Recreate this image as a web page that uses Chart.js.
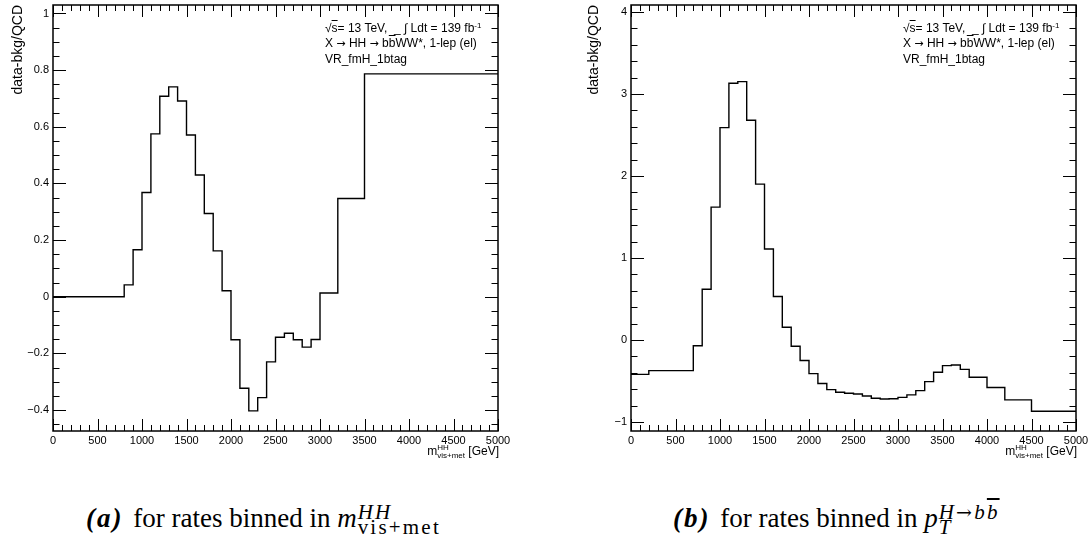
<!DOCTYPE html>
<html>
<head>
<meta charset="utf-8">
<script src="https://cdn.jsdelivr.net/npm/chart.js@4.4.0/dist/chart.umd.min.js"></script>
<style>
  body { margin: 0; width: 1091px; height: 540px; background: #fff; position: relative; overflow: hidden;
         font-family: "Liberation Sans", Arial, sans-serif; color: #000; }
  canvas { position: absolute; top: 0; }
  .info { position: absolute; font-size: 12px; line-height: 12px; white-space: nowrap; }
  .ov { text-decoration: overline; }
  .sp { position: relative; top: -4px; font-size: 8px; }
  .arr { font-family: "DejaVu Sans", sans-serif; font-size: 11px; }
  .xt { position: absolute; font-size: 12px; line-height: 12px; white-space: nowrap; }
  .xt .ss { display: inline-block; vertical-align: -3px; line-height: 8px; font-size: 8px; }
  .ss > span { display: block; }
  .cap { position: absolute; font-family: "Liberation Serif", serif; font-size: 27px; line-height: 27px; white-space: nowrap; }
  .cap .lbl { letter-spacing: 2px; margin-right: 3px; }
  .cap .ss { display: inline-block; vertical-align: -7px; line-height: 15px; font-size: 21px; letter-spacing: 2.2px; margin-left: 1px; }
  .cap .arr2 { font-family: "DejaVu Serif", serif; font-size: 19px; }
</style>
</head>
<body>
<canvas id="chartA" width="513" height="460" style="left:0px"></canvas>
<canvas id="chartB" width="513" height="460" style="left:578px"></canvas>

<!-- rótulos dentro dos painéis -->
<div class="info" style="left:325px; top:22px">√<span class="ov">s</span>= 13 TeV, &nbsp;_ ∫ Ldt = 139 fb<span class="sp">-1</span></div>
<div class="info" style="left:325px; top:37px">X <span class="arr">→</span> HH <span class="arr">→</span> b<span class="ov">b</span>WW*, 1-lep (el)</div>
<div class="info" style="left:325px; top:53px">VR_fmH_1btag</div>

<div class="info" style="left:903px; top:22px">√<span class="ov">s</span>= 13 TeV, &nbsp;_ ∫ Ldt = 139 fb<span class="sp">-1</span></div>
<div class="info" style="left:903px; top:37px">X <span class="arr">→</span> HH <span class="arr">→</span> b<span class="ov">b</span>WW*, 1-lep (el)</div>
<div class="info" style="left:903px; top:53px">VR_fmH_1btag</div>

<div class="xt" style="right:592px; top:444px">m<span class="ss"><span>HH</span><span>vis+met</span></span> [GeV]</div>
<div class="xt" style="right:14px; top:444px">m<span class="ss"><span>HH</span><span>vis+met</span></span> [GeV]</div>

<div class="cap" style="left:86px; top:505px"><b class="lbl"><i>(a)</i></b> for rates binned in <i>m</i><span class="ss"><span><i>HH</i></span><span>vis+met</span></span></div>
<div class="cap" style="left:673px; top:505px"><b class="lbl"><i>(b)</i></b> for rates binned in <i>p</i><span class="ss"><span><i>H</i><span class="arr2">→</span><i>b</i><i class="ov">b</i></span><span><i>T</i></span></span></div>

<script>
// ------------------------
// Dados
// ------------------------

// painel (a): bordas dos bins em GeV e valor de cada bin
const edgesA = [0, 200, 800, 900, 1000, 1100, 1200, 1300, 1400, 1500, 1600, 1700, 1800, 1900,
  2000, 2100, 2200, 2300, 2400, 2500, 2600, 2700, 2800, 2900, 3000, 3200, 3500, 5000];
const valuesA = [0, 0, 0.042, 0.166, 0.368, 0.575, 0.708, 0.741, 0.691, 0.571, 0.43, 0.294, 0.162, 0.021,
  -0.152, -0.323, -0.403, -0.356, -0.23, -0.143, -0.129, -0.152, -0.178, -0.151, 0.013, 0.347, 0.787];

// painel (b)
const edgesB = [0, 200, 700, 800, 900, 1000, 1100, 1200, 1300, 1400, 1500, 1600, 1700, 1800, 1900,
  2000, 2100, 2200, 2300, 2400, 2500, 2600, 2700, 2800, 2900, 3000, 3100, 3200, 3300, 3400,
  3500, 3600, 3700, 3800, 4000, 4200, 4500, 5000];
const valuesB = [-0.42, -0.374, -0.07, 0.618, 1.62, 2.59, 3.13, 3.15, 2.68, 1.90, 1.11, 0.53, 0.155,
  -0.077, -0.25, -0.41, -0.53, -0.606, -0.638, -0.65, -0.659, -0.683, -0.711, -0.72, -0.716,
  -0.70, -0.67, -0.618, -0.508, -0.394, -0.313, -0.305, -0.358, -0.455, -0.58, -0.73, -0.87];

// marcas dos eixos
const xTicks = [0, 500, 1000, 1500, 2000, 2500, 3000, 3500, 4000, 4500, 5000];
const yTicksA = [-0.4, -0.2, 0, 0.2, 0.4, 0.6, 0.8, 1];
const yTicksB = [-1, 0, 1, 2, 3, 4];

// ------------------------
// Moldura estilo ROOT (ticks para dentro nos 4 lados)
// ------------------------

const rootFrame = {
  id: 'rootFrame',
  afterDatasetsDraw(chart, args, opts) {
    const { ctx, chartArea: a, scales: { x, y } } = chart;
    ctx.save();
    ctx.strokeStyle = '#000';
    ctx.lineWidth = 1;
    ctx.beginPath();

    const xMaj = x.ticks.map(t => t.value);
    for (let k = Math.ceil(x.min / opts.xMinor - 1e-9); k * opts.xMinor <= x.max + 1e-9; k++) {
      const v = k * opts.xMinor;
      const px = Math.round(x.getPixelForValue(v)) + 0.5;
      const len = xMaj.some(m => Math.abs(m - v) < 1e-6) ? 12 : 6;
      ctx.moveTo(px, a.bottom); ctx.lineTo(px, a.bottom - len);
      ctx.moveTo(px, a.top); ctx.lineTo(px, a.top + len);
    }

    const yMaj = y.ticks.map(t => t.value);
    for (let k = Math.ceil(y.min / opts.yMinor - 1e-9); k * opts.yMinor <= y.max + 1e-9; k++) {
      const v = k * opts.yMinor;
      const py = Math.round(y.getPixelForValue(v)) + 0.5;
      const len = yMaj.some(m => Math.abs(m - v) < 1e-6) ? 13 : 6.5;
      ctx.moveTo(a.left, py); ctx.lineTo(a.left + len, py);
      ctx.moveTo(a.right, py); ctx.lineTo(a.right - len, py);
    }
    ctx.stroke();

    ctx.lineWidth = 1.5;
    ctx.strokeRect(a.left, a.top, a.right - a.left, a.bottom - a.top);
    ctx.restore();
  }
};

function formatarY(v) {
  return String(Math.round(v * 10) / 10).replace('-', '\u2212');
}

// pontos do histograma: um por borda, último repete o valor do último bin
function pontosHisto(edges, values) {
  return edges.map((e, i) => ({ x: e, y: values[Math.min(i, values.length - 1)] }));
}

function criarGrafico(id, edges, values, yMin, yMax, yTicks, yMinor, titlePad) {
  const fonte = { family: 'Liberation Sans', size: 11 };
  return new Chart(document.getElementById(id), {
    type: 'line',
    data: {
      datasets: [{
        data: pontosHisto(edges, values),
        stepped: true,
        borderColor: '#000',
        borderWidth: 1.4,
        pointRadius: 0,
        fill: false
      }]
    },
    options: {
      responsive: false,
      animation: false,
      layout: { padding: { top: 5, right: 15, left: 0, bottom: 0 } },
      plugins: {
        legend: { display: false },
        tooltip: { enabled: false },
        rootFrame: { xMinor: 100, yMinor: yMinor }
      },
      scales: {
        x: {
          type: 'linear',
          min: 0,
          max: 5000,
          bounds: 'data',
          grid: { display: false, drawTicks: false },
          border: { display: false },
          afterBuildTicks: s => { s.ticks = xTicks.map(v => ({ value: v })); },
          afterFit: s => { s.height = 29; s.paddingLeft = 0; s.paddingRight = 0; },
          ticks: { autoSkip: false, maxRotation: 0, padding: 3, color: '#000', font: fonte,
                   callback: v => String(v) }
        },
        y: {
          type: 'linear',
          min: yMin,
          max: yMax,
          bounds: 'data',
          grid: { display: false, drawTicks: false },
          border: { display: false },
          afterBuildTicks: s => { s.ticks = yTicks.map(v => ({ value: v })); },
          afterFit: s => { s.width = 53; s.paddingTop = 0; s.paddingBottom = 0; },
          ticks: { padding: 4, color: '#000', font: fonte, callback: v => formatarY(v) },
          title: {
            display: true,
            text: 'data-bkg/QCD',
            align: 'end',
            color: '#000',
            font: { family: 'Liberation Sans', size: 14 },
            padding: { top: titlePad, bottom: 0 }
          }
        }
      }
    },
    plugins: [rootFrame]
  });
}

// ------------------------
// Inicialização
// ------------------------

criarGrafico('chartA', edgesA, valuesA, -0.474, 1.03, yTicksA, 0.05, 10);
criarGrafico('chartB', edgesB, valuesB, -1.11, 4.085, yTicksB, 0.2, 8);
</script>
</body>
</html>
